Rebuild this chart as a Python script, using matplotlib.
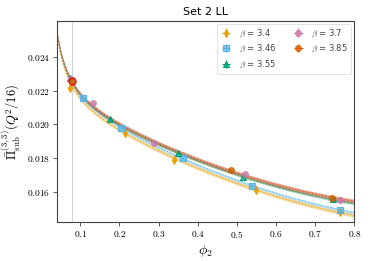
import numpy as np
import matplotlib
matplotlib.use("Agg")
import matplotlib.pyplot as plt
from matplotlib.ticker import FuncFormatter

plt.rcParams['mathtext.fontset'] = 'cm'
plt.rcParams['font.family'] = ['DejaVu Sans']

betas = ["3.4", "3.46", "3.55", "3.7", "3.85"]
colors = ["#E69F00", "#56B4E9", "#009E73", "#CC79A7", "#D55E00"]
markers = ["d", "s", "^", "o", "o"]

phi2 = {
    "3.4":  [0.074, 0.2145, 0.3405, 0.549, 0.764],
    "3.46": [0.1064, 0.2035, 0.362, 0.538, 0.764],
    "3.55": [0.074, 0.176, 0.3507, 0.517, 0.745],
    "3.7":  [0.0765, 0.1335, 0.2886, 0.521, 0.764],
    "3.85": [0.0783, 0.484, 0.7426],
}
vals = {
    "3.4":  [0.02216, 0.01950, 0.01792, 0.01614, 0.01485],
    "3.46": [0.02159, 0.01979, 0.01804, 0.01640, 0.01495],
    "3.55": [0.02272, 0.02035, 0.01831, 0.01690, 0.01558],
    "3.7":  [0.02268, 0.02124, 0.01890, 0.01709, 0.01555],
    "3.85": [0.02258, 0.01729, 0.01567],
}
yerr = {"3.4": 0.00012, "3.46": 0.00008, "3.55": 0.00008, "3.7": 0.00007, "3.85": 0.00007}
xerr = 0.003
band_half = {"3.4": 0.00010, "3.46": 0.00008, "3.55": 0.00008, "3.7": 0.00010, "3.85": 0.00013}
curve_anchor_phi2 = [0.04, 0.053]
curve_anchor_val = [0.0255, 0.0240]
phys_phi2 = 0.0783
phys_val = 0.02258


def basis_shared(p):
    return [1.0 / p, np.log(p), p * p]


# joint fit: y = a_beta + c_beta*phi + B/phi + C*log(phi) + D*phi^2
nb = len(betas)
ns = 3
rows, ys = [], []
for i, b in enumerate(betas):
    pts = list(zip(phi2[b], vals[b])) + list(zip(curve_anchor_phi2, curve_anchor_val))
    for p, v in pts:
        r = np.zeros(2 * nb + ns)
        r[i] = 1.0
        r[nb + i] = p
        r[2 * nb:] = basis_shared(p)
        rows.append(r)
        ys.append(v)
coef, *_ = np.linalg.lstsq(np.array(rows), np.array(ys), rcond=None)

fig = plt.figure(figsize=(3.72, 2.61), dpi=100)
ax = fig.add_axes([0.1524, 0.1483, 0.8, 0.7724])

xx = np.linspace(0.04, 0.8, 300)
for i, b in enumerate(betas):
    yy = coef[i] + coef[nb + i] * xx + sum(c * t for c, t in zip(coef[2 * nb:], basis_shared(xx)))
    ax.fill_between(xx, yy - band_half[b], yy + band_half[b], color=colors[i], alpha=0.4, lw=0, zorder=1)
    ax.plot(xx, yy, color=colors[i], lw=0.6, ls=(0, (2, 2)), alpha=0.8, zorder=2)

ax.axvline(phys_phi2, color="#cccccc", lw=0.6, zorder=0)

for i, b in enumerate(betas):
    ax.errorbar(phi2[b], vals[b], yerr=yerr[b], xerr=xerr, fmt=markers[i], color=colors[i],
                ms=4.0, mfc=matplotlib.colors.to_rgba(colors[i], 0.7), mec=colors[i], mew=0.8,
                elinewidth=0.8, capsize=0, label=r"$\beta$ = " + b, zorder=3)

ax.plot([phys_phi2], [phys_val], 'o', mfc='none', mec='red', ms=5, mew=0.9, zorder=4)

ax.set_xlim(0.04, 0.8)
ax.set_ylim(0.01423, 0.02612)
ax.set_xticks([0.1, 0.2, 0.3, 0.4, 0.5, 0.6, 0.7, 0.8])
ax.set_yticks([0.016, 0.018, 0.020, 0.022, 0.024])
ax.xaxis.set_major_formatter(FuncFormatter(lambda v, p: r"$%.1f$" % v))
ax.yaxis.set_major_formatter(FuncFormatter(lambda v, p: r"$%.3f$" % v))
ax.tick_params(labelsize=6.8, length=3, width=0.6, color="#444444", pad=2)
for s in ax.spines.values():
    s.set_color("#444444")
    s.set_linewidth(0.8)

ax.set_xlabel(r"$\phi_2$", fontsize=10, labelpad=2)
ax.set_ylabel(r"$\bar{\Pi}^{(3,3)}_{\rm sub}(Q^2/16)$", fontsize=9)
ax.yaxis.set_label_coords(-0.118, 0.5)
ax.set_title("Set 2 LL", fontsize=8, pad=4)

leg = ax.legend(loc="upper right", ncol=2, fontsize=6, frameon=True, borderpad=0.4,
                handletextpad=0.8, columnspacing=2.0, labelspacing=0.4, handlelength=1.4,
                borderaxespad=0.4)
leg.get_frame().set_linewidth(0.5)
for t in leg.get_texts():
    t.set_color("#444444")

fig.savefig("out.png", dpi=100)
